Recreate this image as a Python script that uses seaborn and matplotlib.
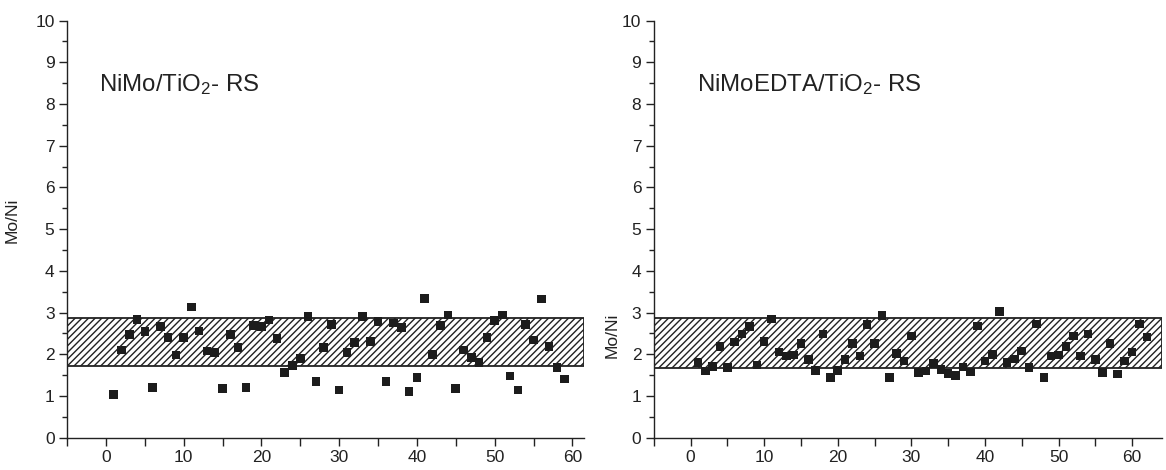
import matplotlib
matplotlib.use("Agg")
import matplotlib.pyplot as plt
from matplotlib.ticker import MultipleLocator
import numpy as np
import pandas as pd
import seaborn as sns

# Mo/Ni ratio measured at each analysed spot
nimo_ratio = [1.03, 2.10, 2.47, 2.83, 2.54, 1.20, 2.67, 2.40, 1.98, 2.40,
              3.13, 2.56, 2.08, 2.04, 1.18, 2.47, 2.16, 1.20, 2.69, 2.66,
              2.82, 2.38, 1.56, 1.73, 1.90, 2.90, 1.34, 2.16, 2.71, 1.14,
              2.04, 2.28, 2.90, 2.30, 2.78, 1.35, 2.75, 2.64, 1.11, 1.44,
              3.33, 2.00, 2.69, 2.94, 1.18, 2.10, 1.92, 1.80, 2.40, 2.81,
              2.94, 1.48, 1.14, 2.71, 2.34, 3.32, 2.18, 1.68, 1.41]
nimoedta_ratio = [1.80, 1.60, 1.70, 2.18, 1.68, 2.29, 2.48, 2.66, 1.74, 2.30,
                  2.84, 2.05, 1.96, 1.98, 2.26, 1.87, 1.61, 2.48, 1.44, 1.61,
                  1.87, 2.26, 1.96, 2.71, 2.26, 2.93, 1.44, 2.02, 1.84, 2.44,
                  1.56, 1.60, 1.78, 1.64, 1.54, 1.49, 1.69, 1.57, 2.68, 1.84,
                  2.00, 3.02, 1.80, 1.89, 2.08, 1.68, 2.72, 1.44, 1.96, 1.98,
                  2.18, 2.44, 1.96, 2.48, 1.87, 1.56, 2.26, 1.53, 1.84, 2.05,
                  2.72, 2.41]

# Hatched range (lower, upper) for each catalyst
nimo_band = [1.72, 2.86]
nimoedta_band = [1.68, 2.86]

panel_titles = ["NiMo/TiO$_2$- RS", "NiMoEDTA/TiO$_2$- RS"]
x_ticks = [0, 10, 20, 30, 40, 50, 60]
y_ticks = list(range(0, 11))

sns.set_style("ticks")
plt.rcParams["font.family"] = ["Liberation Sans", "DejaVu Sans"]
plt.rcParams["mathtext.fontset"] = "custom"
plt.rcParams["mathtext.rm"] = "Liberation Sans"
plt.rcParams["mathtext.default"] = "regular"
plt.rcParams["hatch.linewidth"] = 1.0
plt.rcParams["hatch.color"] = "#222222"

ink = "#222222"
fig = plt.figure(figsize=(11.66, 4.70), dpi=100)
ax_l = fig.add_axes([0.0575, 0.0689, 0.4434, 0.8872])
ax_r = fig.add_axes([0.5607, 0.0689, 0.4355, 0.8872])

panels = [
    (ax_l, nimo_ratio, nimo_band, panel_titles[0], (-5, 61.5), (-0.092, 0.52), 0.062),
    (ax_r, nimoedta_ratio, nimoedta_band, panel_titles[1], (-5, 64), (-0.068, 0.245), 0.085),
]

for ax, ratio, band, title, xlim, ylab_pos, title_x in panels:
    df = pd.DataFrame({"spot": np.arange(1, len(ratio) + 1), "ratio": ratio})
    ax.axhspan(band[0], band[1], facecolor="white", edgecolor=ink,
               hatch="/////", linewidth=1.3, zorder=1)
    sns.scatterplot(data=df, x="spot", y="ratio", ax=ax, marker="s", s=38,
                    color="#1c1c1c", edgecolor="none", linewidth=0, zorder=3)
    ax.set_xlim(*xlim)
    ax.set_ylim(0, 10)
    ax.set_xticks(x_ticks)
    ax.set_yticks(y_ticks)
    ax.xaxis.set_minor_locator(MultipleLocator(5))
    ax.yaxis.set_minor_locator(MultipleLocator(0.5))
    ax.tick_params(axis="both", which="major", direction="out", length=6,
                   width=1.0, color=ink, labelsize=12.5, labelcolor=ink, pad=3)
    ax.tick_params(axis="x", which="minor", direction="out", length=6,
                   width=1.0, color=ink)
    ax.tick_params(axis="y", which="minor", direction="out", length=3.5,
                   width=1.0, color=ink)
    for side in ("top", "right"):
        ax.spines[side].set_visible(False)
    for side in ("left", "bottom"):
        ax.spines[side].set_color(ink)
        ax.spines[side].set_linewidth(1.0)
    ax.set_xlabel("")
    ax.set_ylabel("Mo/Ni", fontsize=12.5, color=ink)
    ax.yaxis.set_label_coords(*ylab_pos)
    ax.text(title_x, 0.832, title, transform=ax.transAxes, fontsize=17.3,
            color=ink, ha="left", va="baseline")

fig.savefig("out.png", dpi=100)
